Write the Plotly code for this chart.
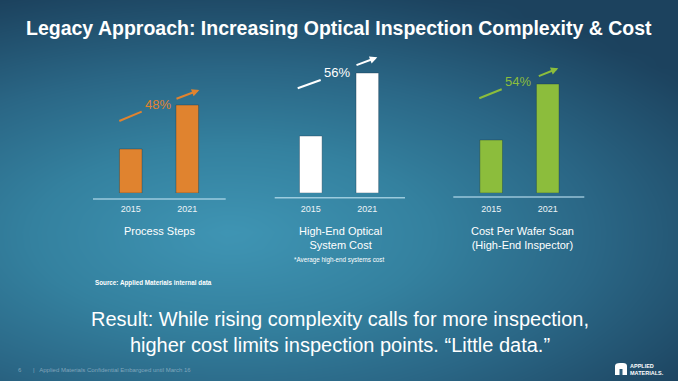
import numpy as np
import plotly.graph_objects as go

W, H = 678, 381

# ---- data ----
years = ["2015", "2021"]
process_steps = [44, 88]
system_cost = [57, 120]
wafer_scan_cost = [53, 109]
increase_labels = ["48%", "56%", "54%"]
group_titles = ["Process Steps", "High-End Optical<br>System Cost",
                "Cost Per Wafer Scan<br>(High-End Inspector)"]
title_text = "Legacy Approach: Increasing Optical Inspection Complexity & Cost"
result_text = ("Result: While rising complexity calls for more inspection,<br>"
               "higher cost limits inspection points. \u201cLittle data.\u201d")
source_text = "Source: Applied Materials internal data"
footnote_text = "*Average high-end systems cost"
footer_text = "|   Applied Materials Confidential Embargoed until March 16"

colors = ["#e0832f", "#ffffff", "#8cbd3c"]
series = [process_steps, system_cost, wafer_scan_cost]

SANS = "Liberation Sans, Arial"


def px(x):
    return x / W


def py(y):
    return 1 - y / H


fig = go.Figure()

# ---- background gradient (styling) ----
xs = np.linspace(0, W, 40)
ys = np.linspace(0, H, 24)
X, Y = np.meshgrid(xs, ys)
D = np.sqrt(((X - 230) / 420) ** 2 + ((Y - 235) / 190) ** 2)
D = np.clip(D, 0, 1.35)
fig.add_trace(go.Heatmap(
    x=xs, y=ys, z=D, zmin=0, zmax=1.35, zsmooth="best", showscale=False,
    hoverinfo="skip",
    colorscale=[[0, "#3f95b4"], [0.35, "#34819f"], [0.65, "#2a6685"],
                [1, "#1c425e"]],
    xaxis="x", yaxis="y"))

# ---- bar groups ----
domains = [(102.5, 215.5), (282.5, 395.6), (462.9, 576.0)]
ybot, ytop = 193, 63
layout_axes = dict(
    xaxis=dict(domain=[0, 1], range=[0, W], visible=False, fixedrange=True),
    yaxis=dict(domain=[0, 1], range=[H, 0], visible=False, fixedrange=True),
)
for i, (vals, col, dom) in enumerate(zip(series, colors, domains)):
    n = i + 2
    fig.add_trace(go.Bar(
        x=years, y=vals, width=0.4, xaxis=f"x{n}", yaxis=f"y{n}",
        marker=dict(color=col, line=dict(color="rgba(20,50,70,0.35)", width=1)),
        hoverinfo="skip", showlegend=False))
    layout_axes[f"xaxis{n}"] = dict(
        domain=[px(dom[0]), px(dom[1])], anchor=f"y{n}", type="category",
        range=[-0.5, 1.5], showgrid=False, zeroline=False, showline=False,
        ticks="", ticklabelstandoff=9,
        tickfont=dict(family=SANS, size=9, color="#eef4f7"), fixedrange=True)
    layout_axes[f"yaxis{n}"] = dict(
        domain=[py(ybot), py(ytop)], anchor=f"x{n}", range=[0, 130],
        visible=False, fixedrange=True)

fig.update_layout(**layout_axes)

shapes = []
annotations = []

# baselines
for (x0, x1, yy) in [(93, 225.7, 199), (274.7, 405, 197.7), (453.3, 584.3, 197)]:
    shapes.append(dict(type="line", xref="paper", yref="paper",
                       x0=px(x0), x1=px(x1), y0=py(yy), y1=py(yy),
                       line=dict(color="rgba(190,225,240,0.75)", width=1.5)))

# growth arrows
arrows = [
    ((119.3, 121), (141.7, 111.7), (157.7, 104.3), (175, 99.3), (199.3, 90)),
    ((297.7, 88.3), (320.7, 80), (337.3, 72.7), (355, 65.7), (377.3, 57.3)),
    ((479.3, 98.3), (501.7, 89.3), (518.3, 81.7), (537.3, 76.7), (558.3, 68.3)),
]
for (a, b, t, c, d), lab, col in zip(arrows, increase_labels, colors):
    shapes.append(dict(type="line", xref="paper", yref="paper",
                       x0=px(a[0]), y0=py(a[1]), x1=px(b[0]), y1=py(b[1]),
                       line=dict(color=col, width=2)))
    annotations.append(dict(xref="paper", yref="paper", x=px(d[0]), y=py(d[1]),
                            ax=c[0] - d[0], ay=c[1] - d[1], text="",
                            showarrow=True, arrowhead=2, arrowsize=0.75,
                            arrowwidth=2, arrowcolor=col, standoff=0))
    annotations.append(dict(xref="paper", yref="paper", x=px(t[0]), y=py(t[1]),
                            text=lab, showarrow=False, xanchor="center",
                            yanchor="middle",
                            font=dict(family=SANS, size=13, color=col)))

# group titles
for (x, y), txt in zip([(159, 231), (340, 238), (522.3, 238)], group_titles):
    annotations.append(dict(xref="paper", yref="paper", x=px(x), y=py(y),
                            text=txt, showarrow=False, xanchor="center",
                            yanchor="middle",
                            font=dict(family=SANS, size=11, color="#ffffff")))

annotations.append(dict(xref="paper", yref="paper", x=px(339), y=py(260),
                        text=footnote_text, showarrow=False, xanchor="center",
                        yanchor="middle",
                        font=dict(family=SANS, size=6.3, color="#ffffff")))

# title
annotations.append(dict(xref="paper", yref="paper", x=px(339), y=py(28),
                        text="<b>" + title_text + "</b>", showarrow=False,
                        xanchor="center", yanchor="middle",
                        font=dict(family=SANS, size=19.5, color="#ffffff")))

# source
annotations.append(dict(xref="paper", yref="paper", x=px(93), y=py(283),
                        text="<b>" + source_text + "</b>", showarrow=False,
                        xanchor="left", yanchor="middle",
                        font=dict(family=SANS, size=6.3, color="#ffffff")))

# result
annotations.append(dict(xref="paper", yref="paper", x=px(340), y=py(332),
                        text=result_text, showarrow=False, xanchor="center",
                        yanchor="middle",
                        font=dict(family=SANS, size=20, color="#ffffff")))

# footer
annotations.append(dict(xref="paper", yref="paper", x=px(19.5), y=py(370),
                        text="6", showarrow=False, xanchor="center",
                        yanchor="middle",
                        font=dict(family=SANS, size=6, color="rgba(200,215,225,0.55)")))
annotations.append(dict(xref="paper", yref="paper", x=px(31), y=py(370),
                        text=footer_text, showarrow=False, xanchor="left",
                        yanchor="middle",
                        font=dict(family=SANS, size=6, color="rgba(200,215,225,0.55)")))

# logo
shapes.append(dict(type="path", xref="paper", yref="paper",
                   path=(f"M {px(615)},{py(375)} L {px(615)},{py(366)} "
                         f"Q {px(615)},{py(363)} {px(620)},{py(363)} "
                         f"L {px(623)},{py(363)} Q {px(627)},{py(363)} {px(627)},{py(366)} "
                         f"L {px(627)},{py(375)} Z"),
                   fillcolor="#ffffff", line=dict(width=0)))
shapes.append(dict(type="rect", xref="paper", yref="paper",
                   x0=px(619.5), x1=px(622.5), y0=py(375), y1=py(369),
                   fillcolor="#2a5d7b", line=dict(width=0)))
annotations.append(dict(xref="paper", yref="paper", x=px(628), y=py(369),
                        text="<b>APPLIED<br>MATERIALS.</b>", showarrow=False,
                        xanchor="left", yanchor="middle", align="left",
                        font=dict(family=SANS, size=5.5, color="#ffffff")))

fig.update_layout(
    width=W, height=H, margin=dict(l=0, r=0, t=0, b=0),
    paper_bgcolor="#24577a", plot_bgcolor="rgba(0,0,0,0)",
    showlegend=False, shapes=shapes, annotations=annotations,
    bargap=0.6,
)

fig.write_html(
    "out.html", config={"displayModeBar": False},
    post_script=("document.body.style.margin='0';"
                 "document.body.style.overflow='hidden';"
                 "document.documentElement.style.overflow='hidden';"))
